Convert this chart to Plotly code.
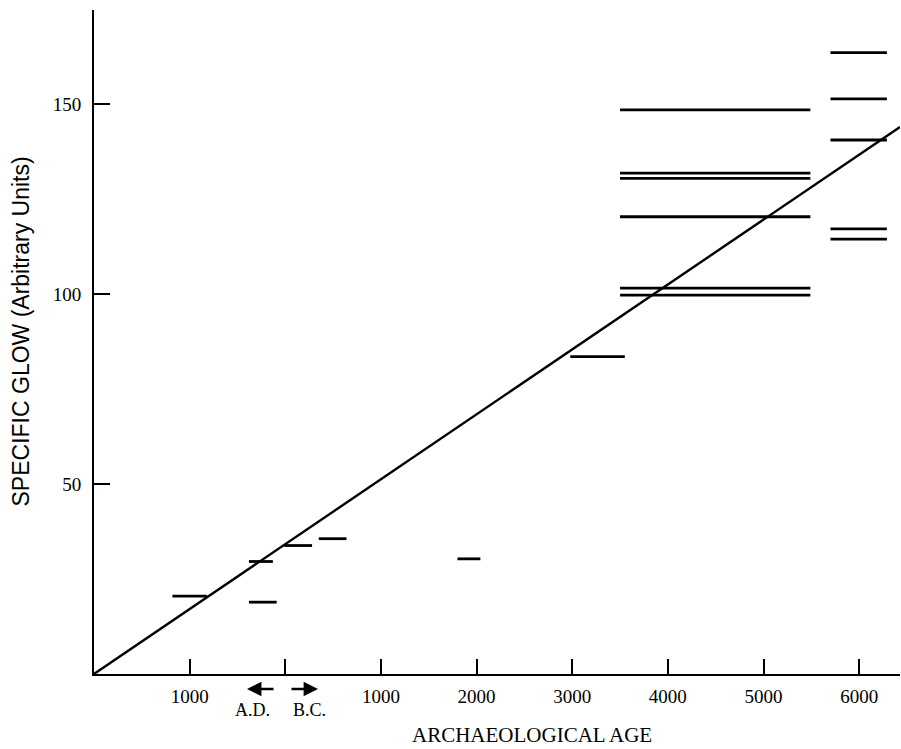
import plotly.graph_objects as go

# Age axis: years before 2000 A.D. (2000 = A.D./B.C. boundary)
age_start = [820, 1620, 1620, 1990, 2350, 3800, 4980,
             5500, 5500, 5500, 5500, 5500, 5500,
             7700, 7700, 7700, 7700, 7700]
age_end = [1180, 1870, 1910, 2280, 2640, 4040, 5550,
           7490, 7490, 7490, 7490, 7490, 7490,
           8290, 8290, 8290, 8290, 8290]
glow = [20.5, 29.6, 18.9, 33.8, 35.6, 30.3, 83.5,
        148.4, 131.8, 130.4, 120.3, 101.5, 99.7,
        163.5, 151.3, 140.5, 117.1, 114.4]

fit_slope = 0.01708  # specific glow per year of age

x_tick_vals = [1000, 2000, 3000, 4000, 5000, 6000, 7000, 8000]
x_tick_text = ["1000", "", "1000", "2000", "3000", "4000", "5000", "6000"]
y_tick_vals = [50, 100, 150]

X_MAX = 8427
Y_MAX = 174.7

seg_x, seg_y = [], []
for a, b, g in zip(age_start, age_end, glow):
    seg_x += [a, b, None]
    seg_y += [g, g, None]

fig = go.Figure()
fig.add_trace(go.Scatter(x=seg_x, y=seg_y, mode="lines",
                         line=dict(color="black", width=2.8),
                         hoverinfo="skip", showlegend=False))
fig.add_trace(go.Scatter(x=[0, X_MAX], y=[0, fit_slope * X_MAX], mode="lines",
                         line=dict(color="black", width=2.4),
                         hoverinfo="skip", showlegend=False))

serif = "Liberation Serif"

fig.update_layout(
    width=901, height=749,
    margin=dict(l=94, r=1, t=10, b=75),
    paper_bgcolor="white", plot_bgcolor="white",
    showlegend=False,
    xaxis=dict(range=[0, X_MAX], showgrid=False, zeroline=False,
               showline=True, linecolor="black", linewidth=2,
               ticks="inside", ticklen=15, tickwidth=1.5, tickcolor="black",
               tickvals=x_tick_vals, ticktext=x_tick_text,
               tickfont=dict(family=serif, size=19, color="black"),
               ticklabelstandoff=4),
    yaxis=dict(range=[0, Y_MAX], showgrid=False, zeroline=False,
               showline=True, linecolor="black", linewidth=2,
               ticks="inside", ticklen=16, tickwidth=1.5, tickcolor="black",
               tickvals=y_tick_vals,
               tickfont=dict(family=serif, size=19, color="black"),
               ticklabelstandoff=7),
)

annotations = [
    dict(text="ARCHAEOLOGICAL AGE", xref="paper", yref="paper",
         x=0.543, y=-0.0925, xanchor="center", yanchor="middle",
         showarrow=False, font=dict(family=serif, size=21, color="black")),
    dict(text="SPECIFIC GLOW (Arbitrary Units)", xref="paper", yref="paper",
         x=-0.0912, y=0.5166, xanchor="center", yanchor="middle", textangle=-90,
         showarrow=False, font=dict(family="Liberation Sans", size=23, color="black")),
    dict(text="A.D.", xref="x", yref="paper", x=1662, y=-0.0542,
         xanchor="center", yanchor="middle", showarrow=False,
         font=dict(family=serif, size=18, color="black")),
    dict(text="B.C.", xref="x", yref="paper", x=2258, y=-0.0542,
         xanchor="center", yanchor="middle", showarrow=False,
         font=dict(family=serif, size=18, color="black")),
    dict(text="", xref="x", yref="paper", x=1600, y=-0.0226,
         axref="pixel", ayref="pixel", ax=28, ay=0,
         showarrow=True, arrowhead=2, arrowsize=1.2, arrowwidth=2.4, arrowcolor="black"),
    dict(text="", xref="x", yref="paper", x=2342, y=-0.0226,
         axref="pixel", ayref="pixel", ax=-28, ay=0,
         showarrow=True, arrowhead=2, arrowsize=1.2, arrowwidth=2.4, arrowcolor="black"),
]
fig.update_layout(annotations=annotations)

fig.write_html("out.html")
